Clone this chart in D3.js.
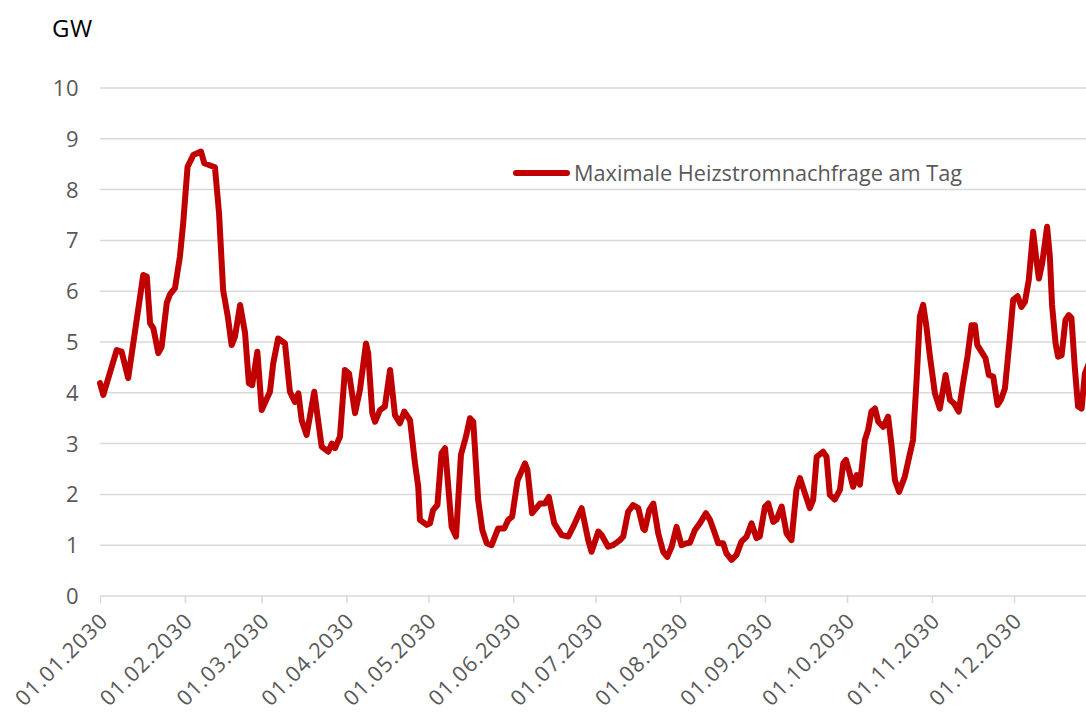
<!DOCTYPE html>
<html>
<head>
<meta charset="utf-8">
<script src="https://cdn.jsdelivr.net/npm/d3@7"></script>
<style>
  html, body { margin: 0; padding: 0; background: #fff; }
  svg { display: block; font-family: "Open Sans", "Liberation Sans", sans-serif; }
</style>
</head>
<body>
<svg id="chart" width="1086" height="713"></svg>
<script>
// Day of year (0 = 01.01.2030) at the line's vertices, and daily peak demand in GW
const days = [0,1.2,6.1,7.9,10.3,15.8,17.1,18.3,19.5,21.3,22.5,24.4,25.6,27.4,29.2,30.4,32.0,34.1,36.9,38.1,42.0,43.5,45.0,46.7,48.1,49.3,51.2,53.0,54.4,55.6,57.5,59.1,62.1,63.3,65.1,67.6,69.4,71.2,72.5,73.7,75.5,78.3,81.0,83.4,84.7,85.9,87.7,89.5,91.0,93.2,95.0,97.2,98.0,99.5,100.5,102.3,104.1,106.0,107.8,109.6,111.2,113.3,115.1,116.3,116.9,119.4,120.6,121.7,123.3,124.8,126.1,128.5,130.1,131.9,133.4,134.0,135.2,136.4,138.2,139.7,141.3,143.1,145.5,147.7,149.2,150.6,152.6,155.3,156.2,157.9,160.8,162.6,164.0,166.0,168.7,171.1,172.9,176.0,178.4,179.6,182.1,183.3,185.7,187.5,190.0,191.2,193.0,194.8,196.7,198.5,199.1,200.7,202.2,204.0,205.8,207.3,208.9,210.7,212.5,214.3,215.6,217.4,219.2,221.4,222.9,224.7,225.9,227.7,228.9,230.8,232.6,234.4,236.3,238.1,239.9,241.1,243.0,244.2,246.0,247.2,249.1,250.9,252.7,254.5,255.8,257.6,259.4,260.6,261.9,264.2,265.5,266.7,268.5,270.4,271.6,272.6,273.8,275.2,276.5,277.7,279.5,280.7,281.9,283.2,284.4,286.2,288.0,289.3,290.5,292.0,294.1,295.7,297.1,298.4,299.6,300.8,302.0,303.3,305.1,306.9,309.0,310.6,312.1,313.8,315.4,317.0,318.5,319.7,320.6,322.1,323.6,324.8,326.4,328.0,329.2,330.7,332.5,333.7,335.3,336.7,338.0,339.4,341.0,342.2,343.1,344.3,346.1,347.1,347.9,349.2,350.1,351.4,352.8,354.0,355.0,356.2,357.4,358.7,359.9,361.5];
const values = [4.19,3.96,4.84,4.81,4.29,6.32,6.29,5.37,5.27,4.78,4.9,5.77,5.94,6.06,6.68,7.34,8.45,8.68,8.75,8.52,8.44,7.54,6.02,5.5,4.94,5.1,5.73,5.18,4.19,4.15,4.81,3.66,4.02,4.58,5.07,4.97,4.02,3.82,3.99,3.46,3.17,4.02,2.94,2.84,3.0,2.91,3.14,4.45,4.38,3.6,4.06,4.97,4.78,3.6,3.43,3.66,3.73,4.45,3.56,3.4,3.63,3.46,2.61,2.15,1.5,1.4,1.43,1.69,1.79,2.81,2.91,1.36,1.17,2.78,3.07,3.2,3.5,3.43,1.89,1.3,1.04,1.0,1.33,1.33,1.5,1.56,2.28,2.61,2.48,1.63,1.82,1.82,1.95,1.43,1.2,1.17,1.36,1.73,1.1,0.87,1.27,1.2,0.97,1.0,1.1,1.17,1.66,1.79,1.73,1.33,1.3,1.69,1.82,1.23,0.87,0.77,0.97,1.36,1.0,1.04,1.05,1.3,1.43,1.63,1.5,1.23,1.04,1.04,0.84,0.71,0.81,1.07,1.17,1.43,1.14,1.17,1.76,1.82,1.46,1.5,1.76,1.23,1.1,2.09,2.32,2.02,1.73,1.89,2.74,2.84,2.74,1.99,1.9,2.09,2.61,2.68,2.45,2.15,2.38,2.19,3.07,3.27,3.63,3.69,3.43,3.33,3.53,2.94,2.28,2.05,2.35,2.74,3.07,4.25,5.5,5.73,5.3,4.71,3.99,3.69,4.35,3.86,3.79,3.63,4.19,4.71,5.33,5.33,4.94,4.81,4.68,4.35,4.32,3.76,3.86,4.09,5.1,5.83,5.9,5.69,5.79,6.22,7.17,6.61,6.25,6.55,7.27,6.68,5.73,4.97,4.71,4.74,5.43,5.53,5.47,4.51,3.73,3.69,4.38,4.6];
const yTicks = [0,1,2,3,4,5,6,7,8,9,10];
const monthTicks = ["01.01.2030","01.02.2030","01.03.2030","01.04.2030","01.05.2030","01.06.2030","01.07.2030","01.08.2030","01.09.2030","01.10.2030","01.11.2030","01.12.2030"];
const seriesName = "Maximale Heizstromnachfrage am Tag";
const unitLabel = "GW";

const W = 1086, H = 713;
const plotL = 100, plotR = 1086, plotT = 88, plotB = 596;
const svg = d3.select("#chart");

const parseTick = d3.timeParse("%d.%m.%Y");
const start = new Date(2030, 0, 1);
const dayToDate = d => new Date(start.getTime() + d * 86400000);

const x = d3.scaleTime()
  .domain([start, new Date(2030, 11, 1)])
  .range([plotL, 1014]);
const y = d3.scaleLinear().domain([0, 10]).range([plotB, plotT]);

// gridlines
svg.append("g").selectAll("line").data(yTicks.filter(d => d > 0)).join("line")
  .attr("x1", plotL).attr("x2", plotR)
  .attr("y1", d => y(d)).attr("y2", d => y(d))
  .attr("stroke", "#d9d9d9").attr("stroke-width", 1.5);

// y tick labels
svg.append("g").selectAll("text").data(yTicks).join("text")
  .attr("x", 79).attr("y", d => y(d)).attr("dy", "0.36em")
  .attr("text-anchor", "end")
  .attr("fill", "#595959").attr("font-size", 22).attr("letter-spacing", 0.5)
  .text(d => d);

// x axis
const xAxis = d3.axisBottom(x)
  .tickValues(monthTicks.map(parseTick))
  .tickSize(7)
  .tickFormat(d3.timeFormat("%d.%m.%Y"));
const gx = svg.append("g").attr("transform", `translate(0,${plotB})`).call(xAxis);
gx.select(".domain").remove();
gx.append("line").attr("x1", plotL).attr("x2", plotR).attr("y1", 0).attr("y2", 0)
  .attr("stroke", "#d9d9d9").attr("stroke-width", 1.5);
gx.selectAll(".tick line").attr("stroke", "#d9d9d9").attr("stroke-width", 1.5);
gx.selectAll(".tick text")
  .attr("fill", "#595959")
  .attr("font-size", 21.5)
  .attr("letter-spacing", 1.1)
  .attr("font-family", "\"Open Sans\", sans-serif")
  .attr("text-anchor", "end")
  .attr("transform", "rotate(-45)")
  .attr("x", -12).attr("y", 17).attr("dy", "0.36em").attr("dx", "0");

// clip
svg.append("clipPath").attr("id", "clip").append("rect")
  .attr("x", 0).attr("y", 0).attr("width", W).attr("height", H);

const pts = days.map((d, i) => ({ date: dayToDate(d), v: values[i] }));
const line = d3.line().x(d => x(d.date)).y(d => y(d.v)).curve(d3.curveLinear);
svg.append("path").datum(pts)
  .attr("clip-path", "url(#clip)")
  .attr("fill", "none").attr("stroke", "#c00000")
  .attr("stroke-width", 6).attr("stroke-linejoin", "round").attr("stroke-linecap", "round")
  .attr("d", line);

// legend
svg.append("line").attr("x1", 516).attr("x2", 567).attr("y1", 173).attr("y2", 173)
  .attr("stroke", "#c00000").attr("stroke-width", 6).attr("stroke-linecap", "round");
svg.append("text").attr("x", 574).attr("y", 173).attr("dy", "0.36em")
  .attr("fill", "#595959").attr("font-size", 21.7).text(seriesName);

// unit label
svg.append("text").attr("x", 52).attr("y", 37)
  .attr("fill", "#000").attr("font-size", 24).attr("letter-spacing", 0.5).text(unitLabel);
</script>
</body>
</html>
